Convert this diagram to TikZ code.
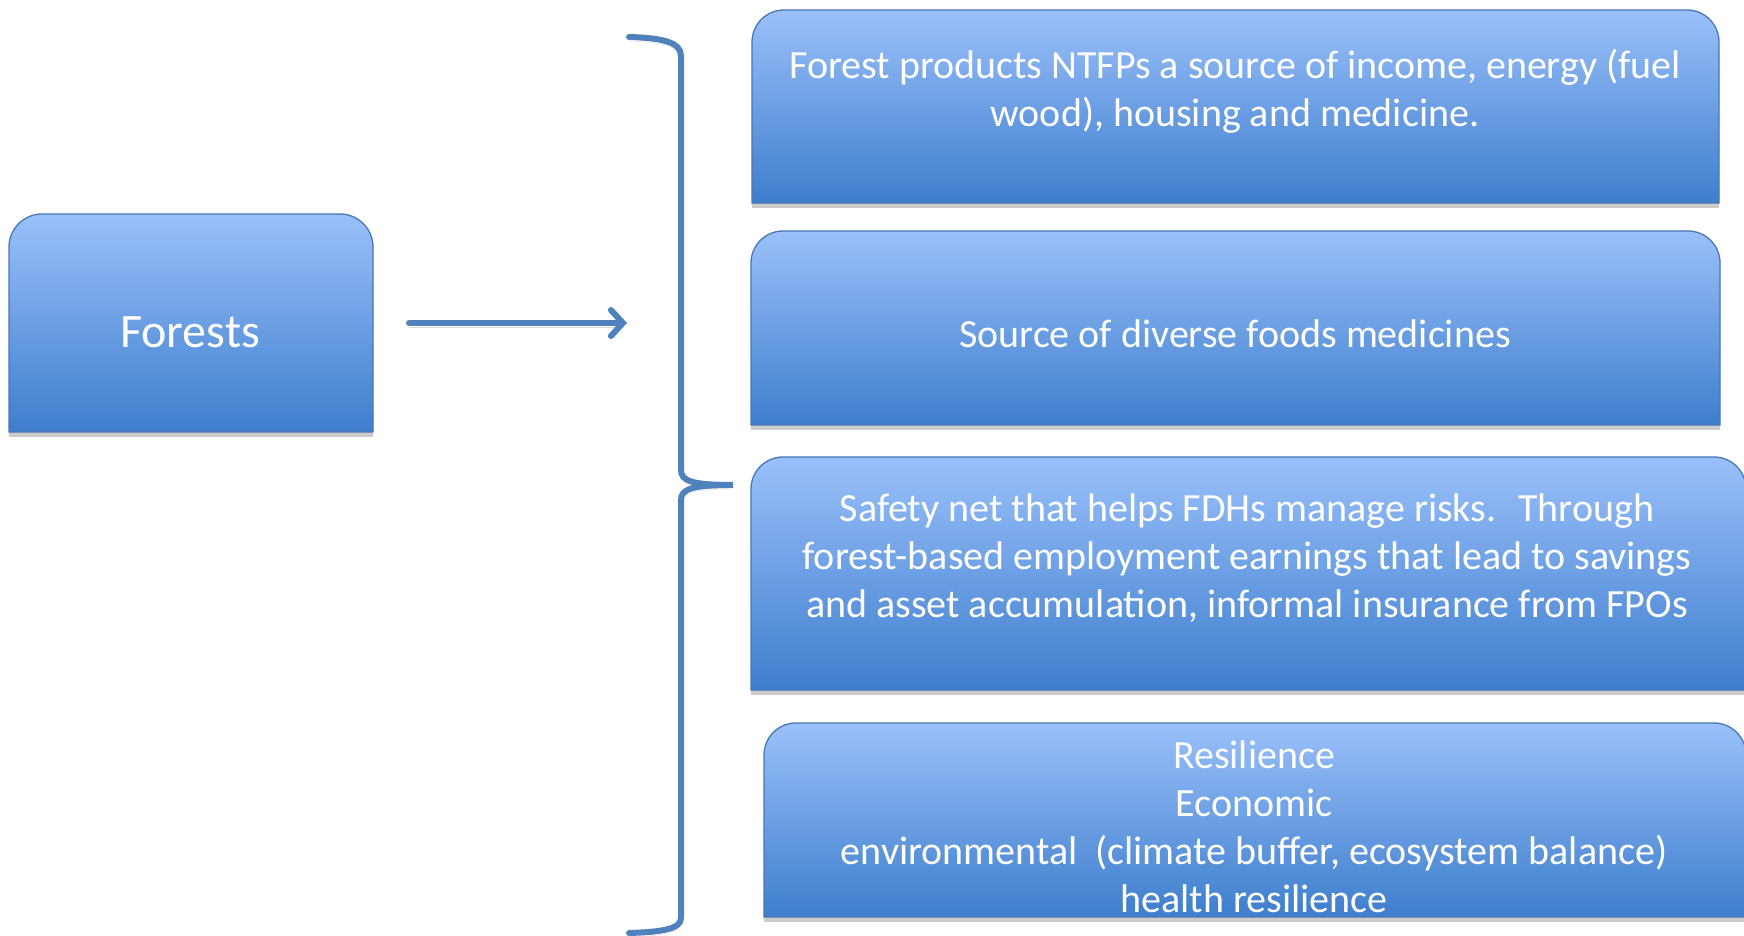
\documentclass[tikz,border=0pt]{standalone}
\usepackage{fontspec}
\setmainfont{Carlito}
\usetikzlibrary{arrows.meta,shadows}
\definecolor{ctop}{RGB}{154,192,250}
\definecolor{cbot}{RGB}{62,126,205}
\definecolor{cedge}{RGB}{72,118,182}
\definecolor{cline}{RGB}{79,129,189}
\newcommand{\tabpath}[2]{(#1.south west) -- ([yshift=-#2]#1.north west) arc[start angle=180,end angle=90,radius=#2] -- ([xshift=-#2]#1.north east) arc[start angle=90,end angle=0,radius=#2] -- (#1.south east) -- cycle}
\tikzset{
  slot/.style={inner sep=0pt, outer sep=0pt, draw=none},
  tabbox/.style={top color=ctop, bottom color=cbot, draw=cedge, line width=1.3pt,
    drop shadow={shadow xshift=0pt, shadow yshift=-5pt, opacity=0.2, fill=black}},
  lbl/.style={text=white, align=center, font=\fontsize{40}{48}\selectfont, inner sep=0pt},
  conn/.style={draw=cline, line width=6pt, line cap=round,
    preaction={draw=black, opacity=0.15, transform canvas={yshift=-4pt}}},
}
\begin{document}
\begin{tikzpicture}[x=1pt,y=1pt]
\useasboundingbox (0,0) rectangle (1744,936);
% placeholders for the boxes
\node[slot, minimum width=364, minimum height=218] (bF) at (191,613) {};
\node[slot, minimum width=967, minimum height=193] (b1) at (1235.5,829.5) {};
\node[slot, minimum width=969, minimum height=194] (b2) at (1235.5,608) {};
\node[slot, minimum width=995, minimum height=233] (b3) at (1248.5,362.5) {};
\node[slot, minimum width=982, minimum height=194] (b4) at (1255,116) {};
% box shapes
\path[tabbox] \tabpath{bF}{33pt};
\path[tabbox] \tabpath{b1}{32pt};
\path[tabbox] \tabpath{b2}{32pt};
\path[tabbox] \tabpath{b3}{32pt};
\path[tabbox] \tabpath{b4}{32pt};
% texts
\node[lbl, font=\fontsize{48}{56}\selectfont] (tF) at (190,604) {Forests};
\node[lbl] (t1) at (1235,845) {Forest products NTFPs a source of income, energy (fuel\\ wood), housing and medicine.};
\node[lbl] (t2) at (1235,602) {Source of diverse foods medicines};
\node[lbl] (t3) at (1247,378) {Safety net that helps FDHs manage risks.\hspace{22pt}Through\\ forest-based employment earnings that lead to savings\\ and asset accumulation, informal insurance from FPOs};
\node[lbl] (t4) at (1254,109) {Resilience\\ Economic\\ environmental~ (climate buffer, ecosystem balance)\\ health resilience};
% arrow
\coordinate (a1) at (409,613);
\coordinate (a2) at (627,613);
\draw[conn, -{Straight Barb[length=12pt,width=26pt,line cap=round]}] (a1) -- (a2);
% brace
\coordinate (brT) at (629,899);
\coordinate (brM) at (733,451);
\coordinate (brB) at (629,3);
\draw[conn] (brT) .. controls (662,898) and (681,894) .. (681,880)
  -- (681,466) .. controls (681,455) and (692,451) .. (brM)
  .. controls (692,451) and (681,447) .. (681,436)
  -- (681,18) .. controls (681,7) and (662,4) .. (brB);
\end{tikzpicture}
\end{document}
